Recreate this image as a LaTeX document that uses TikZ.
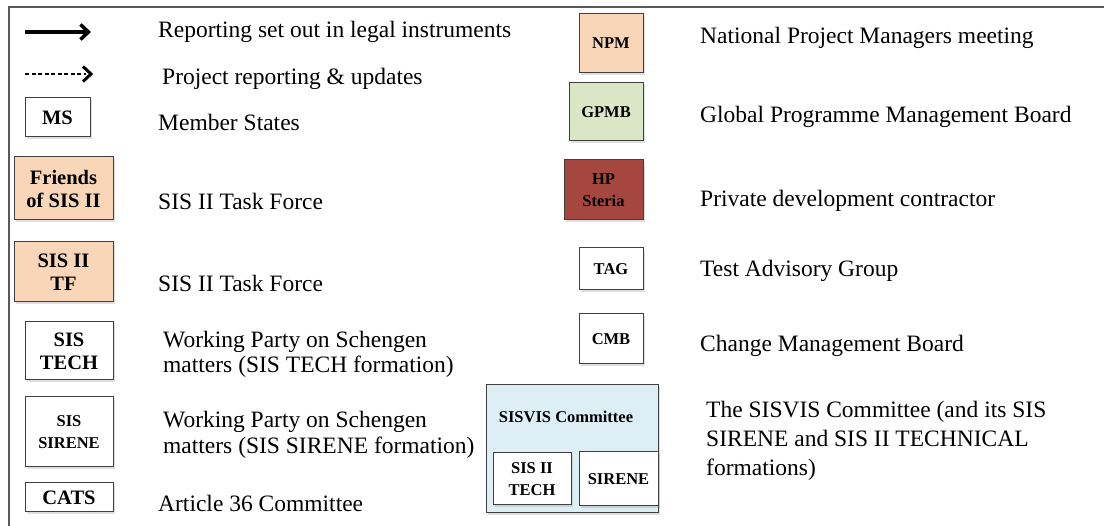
\documentclass[tikz,border=0pt]{standalone}
\usepackage{fontspec}
\setmainfont{Liberation Serif}
\usetikzlibrary{arrows.meta,shadows}

\definecolor{peach}{HTML}{FAD6B8}
\definecolor{sage}{HTML}{DAE6C6}
\definecolor{brick}{HTML}{A5463F}
\definecolor{iceblue}{HTML}{DDEFF5}

\tikzset{
  legbox/.style={draw=black!75, line width=1pt, fill=white, inner sep=0pt, align=center,
    drop shadow={opacity=0.25, shadow xshift=1.5pt, shadow yshift=-2pt},
    font=\fontsize{20.5}{23}\selectfont\bfseries},
  smallbox/.style={legbox, font=\fontsize{16.5}{21.5}\selectfont\bfseries},
  legtext/.style={anchor=west, align=left, inner sep=0pt, font=\fontsize{23.5}{25.5}\selectfont},
  barb/.style={-{Straight Barb[length=8pt, width=15pt]}},
}

\begin{document}
\begin{tikzpicture}[x=1pt, y=-1pt]
\useasboundingbox (0,0) rectangle (1104,526);

% frame
\draw[line width=1.2pt, black!65] (9,526) -- (9,7) -- (1104,7);

% arrows
\coordinate (solidA) at (25,32);
\coordinate (solidB) at (91,32);
\coordinate (dashA) at (25,74);
\coordinate (dashB) at (91,74);
\draw[barb, line width=3.5pt] (solidA) -- (solidB);
\draw[line width=1.6pt, dash pattern=on 4pt off 2.5pt] (dashA) -- (86,74);
\draw[line width=3pt, miter limit=4] (83,66.5) -- (dashB) -- (83,81.5);

% left column
\node[legbox, minimum width=65, minimum height=39] (ms) at (57.5,117.5) {MS};
\node[legbox, fill=peach, minimum width=99, minimum height=63] (friends) at (63.5,188.5) {Friends\\of SIS II};
\node[legbox, fill=peach, minimum width=99, minimum height=60] (tf) at (63.5,272) {SIS II\\TF};
\node[legbox, minimum width=88, minimum height=58] (sistech) at (69,351) {SIS\\TECH};
\node[legbox, font=\fontsize{16.5}{22}\selectfont\bfseries, minimum width=88, minimum height=70] (sissirene) at (69,432) {SIS\\SIRENE};
\node[legbox, minimum width=88, minimum height=29] (cats) at (69,497.5) {CATS};

\node[legtext] (solidtxt) at (158,32) {Reporting set out in legal instruments};
\node[legtext] (dashtxt) at (162,79) {Project reporting \& updates};
\node[legtext] (mstxt) at (158,122) {Member States};
\node[legtext] (friendstxt) at (158,201) {SIS II Task Force};
\node[legtext] (tftxt) at (158,283) {SIS II Task Force};
\node[legtext] (sistechtxt) at (163,354.5) {Working Party on Schengen\\matters (SIS TECH formation)};
\node[legtext] (sissirenetxt) at (163,435) {Working Party on Schengen\\matters (SIS SIRENE formation)};
\node[legtext] (catstxt) at (158,503) {Article 36 Committee};

% right column
\node[smallbox, fill=peach, minimum width=64, minimum height=59] (npm) at (611,43.5) {NPM};
\node[smallbox, fill=sage, minimum width=74, minimum height=58] (gpmb) at (606,112) {GPMB};
\node[smallbox, fill=brick, minimum width=79, minimum height=60] (hp) at (603.5,190) {HP\\Steria};
\node[smallbox, minimum width=64, minimum height=42] (tag) at (611,269) {TAG};
\node[smallbox, minimum width=64, minimum height=50] (cmb) at (611,339) {CMB};
\node[smallbox, fill=iceblue, minimum width=172, minimum height=128] (sisvis) at (572,449) {};
\node[font=\fontsize{16.5}{21}\selectfont\bfseries, inner sep=0pt] (sisvistitle) at (566,417) {SISVIS Committee};
\node[smallbox, minimum width=78, minimum height=52] (sis2tech) at (532,479) {SIS II\\TECH};
\node[smallbox, minimum width=79, minimum height=54] (sirene) at (618.5,479) {SIRENE};

\node[legtext] (npmtxt) at (700,38) {National Project Managers meeting};
\node[legtext] (gpmbtxt) at (700,117) {Global Programme Management Board};
\node[legtext] (hptxt) at (700,201) {Private development contractor};
\node[legtext] (tagtxt) at (700,271) {Test Advisory Group};
\node[legtext] (cmbtxt) at (700,346) {Change Management Board};
\node[legtext, font=\fontsize{23.5}{29}\selectfont] (sisvistxt) at (706,441) {The SISVIS Committee (and its SIS\\SIRENE and SIS II TECHNICAL\\formations)};
\end{tikzpicture}
\end{document}
